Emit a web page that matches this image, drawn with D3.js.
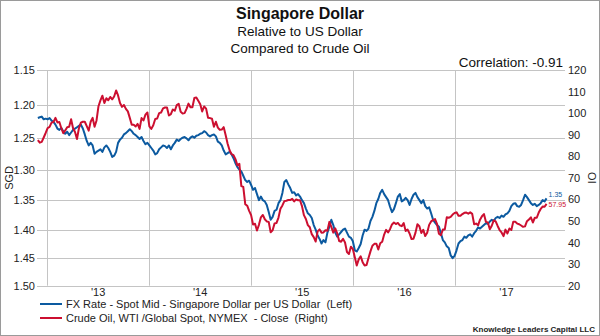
<!DOCTYPE html>
<html><head><meta charset="utf-8">
<script src="https://cdn.jsdelivr.net/npm/d3@7"></script>
<style>
html,body{margin:0;padding:0;background:#fff;}
svg{display:block;font-family:"Liberation Sans",Arial,sans-serif;}
</style></head>
<body>
<svg id="chart" width="600" height="336"></svg>
<script>
// ---- data (weekly Friday closes, Nov 30 2012 – Nov 24 2017) ----
const startDate = "2012-11-30";
const endDate = "2017-11-24";

const fxRate = [
1.220,
1.219,1.218,1.222,1.221,
1.222,1.220,1.224,1.226,
1.230,1.236,1.238,1.235,
1.240,1.244,1.241,1.246,1.242,
1.238,1.236,1.234,1.232,
1.230,1.236,1.245,1.255,1.262,
1.258,1.262,1.275,1.272,
1.270,1.268,1.272,1.265,
1.262,1.266,1.272,1.280,1.278,
1.272,1.258,1.253,1.250,
1.245,1.243,1.240,1.237,
1.240,1.244,1.246,1.249,1.252,
1.249,1.255,1.260,1.258,
1.262,1.266,1.270,1.276,1.274,
1.268,1.265,1.262,1.263,
1.266,1.262,1.268,1.262,
1.258,1.253,1.255,1.252,
1.250,1.249,1.251,1.254,1.250,
1.248,1.250,1.247,1.246,
1.244,1.243,1.240,1.242,
1.246,1.248,1.246,1.245,1.248,
1.256,1.258,1.262,1.270,
1.276,1.274,1.272,1.276,1.282,
1.290,1.296,1.300,1.303,
1.310,1.317,1.320,1.318,
1.325,1.333,1.330,1.340,1.350,
1.344,1.350,1.352,1.358,
1.370,1.383,1.378,1.368,
1.366,1.355,1.350,1.338,
1.320,1.317,1.324,1.330,1.338,
1.337,1.342,1.340,1.344,
1.350,1.355,1.364,1.372,1.375,
1.380,1.392,1.400,1.410,
1.416,1.424,1.418,1.422,
1.405,1.395,1.383,1.392,1.405,
1.412,1.408,1.404,1.400,
1.398,1.405,1.412,1.414,
1.420,1.436,1.438,1.432,1.425,
1.410,1.400,1.402,1.398,
1.385,1.378,1.368,1.355,
1.348,1.338,1.333,1.340,1.345,
1.350,1.361,1.370,1.365,
1.355,1.344,1.340,1.352,
1.350,1.346,1.350,1.358,1.348,
1.341,1.338,1.345,1.350,
1.355,1.350,1.360,1.364,1.362,
1.372,1.383,1.388,1.392,
1.395,1.406,1.418,1.422,
1.429,1.432,1.445,1.450,1.446,
1.436,1.424,1.420,1.418,
1.412,1.414,1.410,1.408,
1.412,1.406,1.402,1.396,1.398,
1.395,1.392,1.389,1.390,
1.386,1.383,1.385,1.380,
1.378,1.380,1.376,1.378,1.374,
1.372,1.368,1.360,1.356,
1.355,1.360,1.361,1.358,
1.350,1.341,1.345,1.350,1.355,
1.358,1.356,1.360,1.358,
1.355,1.350,1.352,1.347
];

const crudeOil = [
87.5,
86.3,86.7,88.7,90.8,
93.1,93.6,95.6,95.9,
97.8,95.7,95.9,93.0,
90.7,92.0,93.5,93.7,97.2,
93.0,91.3,88.0,93.0,
95.6,96.0,96.0,94.0,91.9,
96.0,97.8,93.7,96.6,
103.2,105.9,108.1,104.7,
106.9,106.0,107.5,106.4,107.7,
110.5,108.2,104.7,102.9,
103.8,102.0,100.8,97.8,
94.6,94.6,93.8,95.0,92.7,
97.7,96.6,99.3,100.3,
93.9,92.7,94.4,97.3,97.5,
100.0,100.3,102.2,102.6,
102.6,98.9,99.5,101.7,
101.1,103.7,104.3,100.6,
99.8,100.0,102.0,104.4,102.7,
102.7,107.0,107.3,105.7,
104.1,100.8,103.1,102.1,
97.9,97.7,97.4,93.7,96.0,
93.3,92.3,92.4,93.5,
89.7,85.8,82.8,81.0,80.5,
78.7,75.8,76.5,66.2,
65.8,57.8,57.1,54.7,
52.7,48.4,48.7,45.6,48.2,
51.7,52.8,50.8,49.8,
49.6,44.8,45.7,48.9,
49.1,51.6,55.7,57.2,
59.2,59.4,59.7,59.7,60.3,
59.1,60.0,59.6,59.6,
56.9,52.7,50.9,48.1,47.1,
43.9,42.5,40.5,45.2,
46.1,44.6,44.7,45.7,
45.5,49.6,47.3,44.6,46.6,
44.3,40.7,40.4,41.7,
40.0,35.6,34.7,38.1,
37.0,33.2,29.4,32.2,33.6,
30.9,29.4,29.6,32.8,
35.9,38.5,39.4,39.5,
36.8,39.7,40.4,43.7,45.9,
44.7,46.2,48.4,49.3,
48.6,49.1,48.0,47.6,
49.0,45.4,46.0,44.2,41.6,
41.8,44.5,48.5,47.6,
44.4,45.9,43.0,44.5,48.2,
49.8,50.4,50.9,48.7,
44.1,43.4,46.0,46.1,
51.7,51.5,51.9,53.0,53.7,
54.0,52.4,52.4,53.2,
53.8,53.9,53.4,54.0,
53.3,48.5,48.8,48.0,50.6,
52.2,53.2,49.6,49.3,
46.2,47.8,50.3,49.8,
47.7,45.8,44.7,43.0,46.0,
44.2,46.5,45.8,49.7,
49.6,48.8,48.5,47.9,
47.3,47.5,49.9,50.7,51.7,
49.3,51.5,51.5,53.9,
55.6,56.7,56.6,57.95
];

const leftTicks = [1.15,1.20,1.25,1.30,1.35,1.40,1.45,1.50];
const rightTicks = [20,30,40,50,60,70,80,90,100,110,120];
const yearLabels = ["'13","'14","'15","'16","'17"];
const yearStarts = [2013,2014,2015,2016,2017];

const titleLines = ["Singapore Dollar","Relative to US Dollar","Compared to Crude Oil"];
const correlationText = "Correlation: -0.91";
const legendItems = [
  "FX Rate - Spot Mid - Singapore Dollar per US Dollar  (Left)",
  "Crude Oil, WTI /Global Spot, NYMEX  - Close  (Right)"
];
const footerText = "Knowledge Leaders Capital LLC";

// ---- build ----
const parse = d3.timeParse("%Y-%m-%d");
const dates = d3.timeFriday.range(parse(startDate), d3.timeDay.offset(parse(endDate), 1));
if (dates.length !== fxRate.length || dates.length !== crudeOil.length) {
  throw new Error("length mismatch " + dates.length + " " + fxRate.length + " " + crudeOil.length);
}

const BLUE = "#0c5aa0", RED = "#cc0f30", GRID = "#c4c4c4";
const L = 37, R = 565, T = 70, B = 285.7;

const svg = d3.select("#chart");
svg.append("rect").attr("x",0.5).attr("y",0.5).attr("width",599).attr("height",335)
  .attr("fill","#fff").attr("stroke","#9a9a9a");

const x = d3.scaleTime().domain([new Date(2012,10,27), new Date(2018,0,29)]).range([L,R]);
const yL = d3.scaleLog().domain([1.15,1.5]).range([T,B]);
const yR = d3.scaleLinear().domain([20,120]).range([B,T]);

// gridlines
svg.append("g").selectAll("line.h").data(leftTicks).join("line")
  .attr("x1",L).attr("x2",R)
  .attr("y1",d=>Math.round(yL(d))+0.5).attr("y2",d=>Math.round(yL(d))+0.5)
  .attr("stroke",GRID).attr("stroke-width",1);
svg.append("g").selectAll("line.v").data(yearStarts).join("line")
  .attr("x1",d=>Math.round(x(new Date(d,0,1)))+0.5).attr("x2",d=>Math.round(x(new Date(d,0,1)))+0.5)
  .attr("y1",T).attr("y2",B)
  .attr("stroke",GRID).attr("stroke-width",1);

// axes
const axL = svg.append("g").attr("transform",`translate(${L-1},0)`)
  .call(d3.axisLeft(yL).tickValues(leftTicks).tickFormat(d3.format(".2f")).tickSize(0).tickPadding(1));
const axR = svg.append("g").attr("transform",`translate(${R+1},0)`)
  .call(d3.axisRight(yR).tickValues(rightTicks).tickFormat(d3.format("d")).tickSize(0).tickPadding(2));
const axB = svg.append("g").attr("transform",`translate(0,${B})`)
  .call(d3.axisBottom(x).tickValues(yearStarts.map(y=>new Date(y,6,2)))
    .tickFormat((d,i)=>yearLabels[i]).tickSize(0).tickPadding(3));
[axL,axR,axB].forEach(g=>{
  g.select(".domain").remove();
  g.selectAll("text").attr("fill","#222").style("font-size","11px")
    .style("font-family",'"Liberation Sans",Arial,sans-serif');
});

// axis titles
svg.append("text").attr("transform",`translate(13,${(T+B)/2}) rotate(-90)`)
  .attr("text-anchor","middle").attr("font-size",11).attr("fill","#222").text("SGD");
svg.append("text").attr("transform",`translate(596,${(T+B)/2}) rotate(-90)`)
  .attr("text-anchor","middle").attr("font-size",11).attr("fill","#222").text("IO");

// lines
const pts = dates.map((d,i)=>({d, fx:fxRate[i], oil:crudeOil[i]}));
svg.append("path").datum(pts)
  .attr("d",d3.line().x(p=>x(p.d)).y(p=>yL(p.fx)))
  .attr("fill","none").attr("stroke",BLUE).attr("stroke-width",2).attr("stroke-linejoin","round");
svg.append("path").datum(pts)
  .attr("d",d3.line().x(p=>x(p.d)).y(p=>yR(p.oil)))
  .attr("fill","none").attr("stroke",RED).attr("stroke-width",2).attr("stroke-linejoin","round");

// end labels
const last = pts[pts.length-1];
svg.append("text").attr("x",x(last.d)+2).attr("y",yL(last.fx)-1)
  .attr("font-size",7).attr("fill",BLUE).text(d3.format(".2f")(last.fx));
svg.append("text").attr("x",x(last.d)+2).attr("y",yR(last.oil)+3)
  .attr("font-size",7).attr("fill",RED).text(d3.format(".2f")(last.oil));

// titles
svg.append("text").attr("x",300).attr("y",19).attr("text-anchor","middle")
  .attr("font-size",16).attr("font-weight","bold").attr("fill","#111").text(titleLines[0]);
svg.append("text").attr("x",300).attr("y",36).attr("text-anchor","middle")
  .attr("font-size",13.5).attr("fill","#111").text(titleLines[1]);
svg.append("text").attr("x",300).attr("y",53).attr("text-anchor","middle")
  .attr("font-size",13.5).attr("fill","#111").text(titleLines[2]);
svg.append("text").attr("x",563).attr("y",67).attr("text-anchor","end")
  .attr("font-size",13.5).attr("fill","#111").text(correlationText);

// legend
const legColors = [BLUE, RED];
const lg = svg.append("g").selectAll("g").data(legendItems).join("g")
  .attr("transform",(d,i)=>`translate(40,${304+i*14})`);
lg.append("line").attr("x1",0).attr("x2",22).attr("y1",0).attr("y2",0)
  .attr("stroke",(d,i)=>legColors[i]).attr("stroke-width",2);
lg.append("text").attr("x",26).attr("y",4).attr("font-size",11).attr("fill","#222")
  .style("white-space","pre").text(d=>d);

// footer
svg.append("text").attr("x",595).attr("y",332).attr("text-anchor","end")
  .attr("font-size",8).attr("font-weight","bold").attr("fill","#222").text(footerText);
</script>
</body></html>
